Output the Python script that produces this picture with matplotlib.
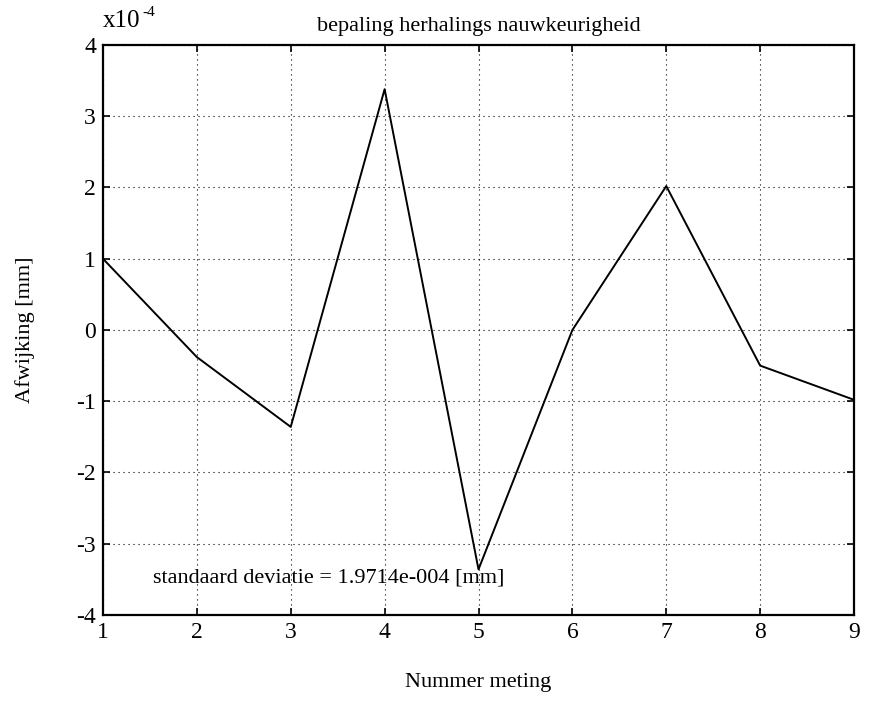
import matplotlib
matplotlib.use("Agg")
import matplotlib.pyplot as plt
from matplotlib.ticker import FuncFormatter

plt.rcParams['font.family'] = ['Liberation Serif', 'DejaVu Serif']

# Meting nummers en afwijkingen (in mm)
meting = [1, 2, 3, 4, 5, 6, 7, 8, 9]
afwijking = [1.00e-4, -0.38e-4, -1.36e-4, 3.38e-4, -3.36e-4, 0.00e-4, 2.02e-4, -0.50e-4, -0.98e-4]
scale = 1e-4
y_ticks = [-4, -3, -2, -1, 0, 1, 2, 3, 4]
std_label = "standaard deviatie = 1.9714e-004 [mm]"

fig = plt.figure(figsize=(8.9, 7.01), dpi=100)
ax = fig.add_axes([0.1157, 0.1227, 0.8439, 0.8131])

ax.plot(meting, afwijking, color='black', linewidth=1.4)

ax.set_xlim(1, 9)
ax.set_ylim(-4 * scale, 4 * scale)
ax.set_xticks(meting)
ax.set_yticks([t * scale for t in y_ticks])
ax.yaxis.set_major_formatter(FuncFormatter(lambda v, p: f"{v / scale:.0f}"))

ax.grid(True, color='black', linestyle=(0, (1, 3.5)), linewidth=0.8)
ax.tick_params(direction='in', top=True, right=True, length=5, width=1.2,
               labelsize=17, pad=5)
for s in ax.spines.values():
    s.set_linewidth(1.6)

ax.set_title("bepaling herhalings nauwkeurigheid", fontsize=16, pad=10)
ax.text(0.0, 1.022, "x10", transform=ax.transAxes, fontsize=18,
        ha='left', va='bottom')
ax.text(0.052, 1.045, "-4", transform=ax.transAxes, fontsize=11,
        ha='left', va='bottom')
ax.set_xlabel("Nummer meting", fontsize=16, labelpad=22)
ax.set_ylabel("Afwijking [mm]", fontsize=16, labelpad=30)
ax.text(1.53, -3.48 * scale, std_label, fontsize=16, ha='left', va='center')

fig.savefig("out.png", dpi=100)
